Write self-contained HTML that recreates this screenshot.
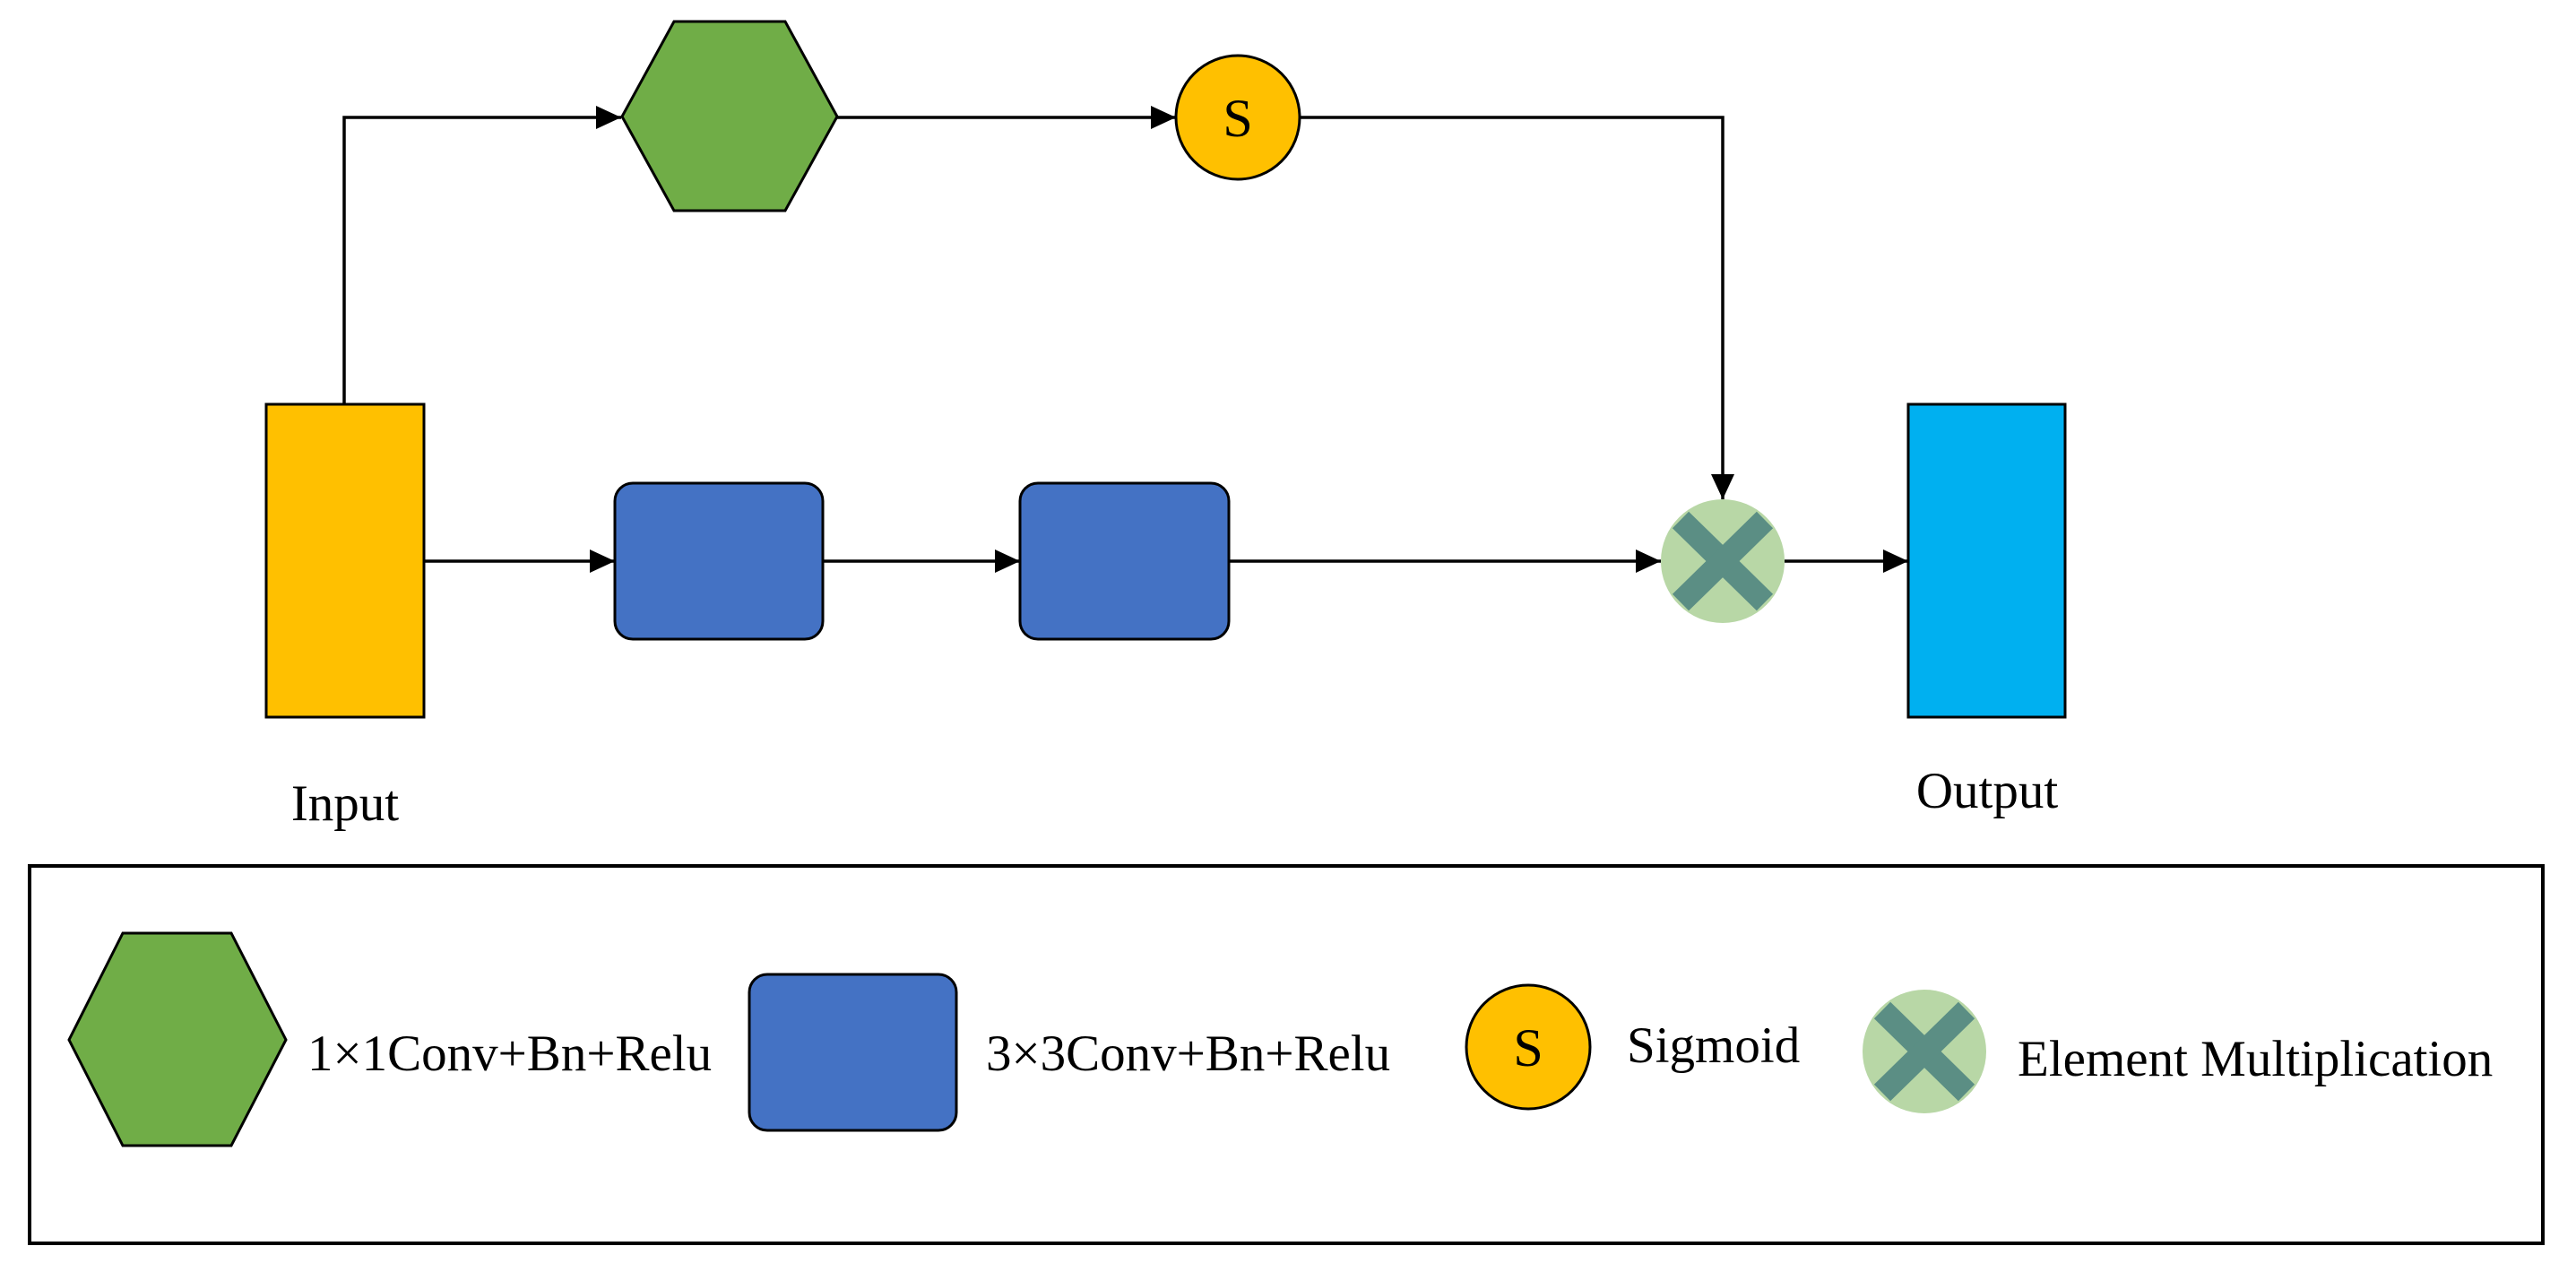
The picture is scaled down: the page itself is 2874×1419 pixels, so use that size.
<!DOCTYPE html>
<html><head><meta charset="utf-8"><style>
html,body{margin:0;padding:0;background:#fff;}
svg{display:block;}
text{font-family:"Liberation Serif",serif;fill:#000;}
</style></head><body>
<svg width="2874" height="1419" viewBox="0 0 2874 1419" xmlns="http://www.w3.org/2000/svg">
<defs>
<marker id="a" viewBox="0 0 28 26" refX="28" refY="13" markerWidth="28" markerHeight="26" markerUnits="userSpaceOnUse" orient="auto">
<path d="M0,0 L28,13 L0,26 Z" fill="#000"/></marker>
</defs>
<g stroke="#000" stroke-width="3.5" fill="none">
<polyline points="384,451 384,131 693,131" marker-end="url(#a)"/>
<line x1="934" y1="131" x2="1312" y2="131" marker-end="url(#a)"/>
<polyline points="1450,131 1922,131 1922,557" marker-end="url(#a)"/>
<line x1="473" y1="626" x2="686" y2="626" marker-end="url(#a)"/>
<line x1="918" y1="626" x2="1138" y2="626" marker-end="url(#a)"/>
<line x1="1371" y1="626" x2="1853" y2="626" marker-end="url(#a)"/>
<line x1="1991" y1="626" x2="2129" y2="626" marker-end="url(#a)"/>
</g>
<rect x="297" y="451" width="176" height="349" fill="#ffc000" stroke="#000" stroke-width="3"/>
<rect x="2129" y="451" width="175" height="349" fill="#00b0f0" stroke="#000" stroke-width="3"/>
<polygon points="752,24 876,24 934,130 876,235 752,235 694,130" fill="#70ad47" stroke="#000" stroke-width="3"/>
<circle cx="1381" cy="131" r="69" fill="#ffc000" stroke="#000" stroke-width="3"/>
<text x="1381" y="152" font-size="60" text-anchor="middle">S</text>
<rect x="686" y="539" width="232" height="174" rx="20" fill="#4472c4" stroke="#000" stroke-width="3"/>
<rect x="1138" y="539" width="233" height="174" rx="20" fill="#4472c4" stroke="#000" stroke-width="3"/>
<circle cx="1922" cy="626" r="69" fill="#b8d7a6"/>
<g stroke="#5b8e84" stroke-width="26"><line x1="1875" y1="580" x2="1969" y2="672"/><line x1="1969" y1="580" x2="1875" y2="672"/></g>
<text x="385" y="915" font-size="57" text-anchor="middle">Input</text>
<text x="2217" y="901" font-size="57" text-anchor="middle">Output</text>
<rect x="33" y="966" width="2804" height="421" fill="none" stroke="#000" stroke-width="4"/>
<polygon points="137,1041 258,1041 319,1160 258,1278 137,1278 77,1160" fill="#70ad47" stroke="#000" stroke-width="3"/>
<text x="343" y="1194" font-size="57">1×1Conv+Bn+Relu</text>
<rect x="836" y="1087" width="231" height="174" rx="20" fill="#4472c4" stroke="#000" stroke-width="3"/>
<text x="1100" y="1194" font-size="57">3×3Conv+Bn+Relu</text>
<circle cx="1705" cy="1168" r="69" fill="#ffc000" stroke="#000" stroke-width="3"/>
<text x="1705" y="1189" font-size="60" text-anchor="middle">S</text>
<text x="1815" y="1185" font-size="57">Sigmoid</text>
<circle cx="2147" cy="1173" r="69" fill="#b8d7a6"/>
<g stroke="#5b8e84" stroke-width="26"><line x1="2100" y1="1127" x2="2194" y2="1219"/><line x1="2194" y1="1127" x2="2100" y2="1219"/></g>
<text x="2251" y="1200" font-size="57">Element Multiplication</text>
</svg>
</body></html>
